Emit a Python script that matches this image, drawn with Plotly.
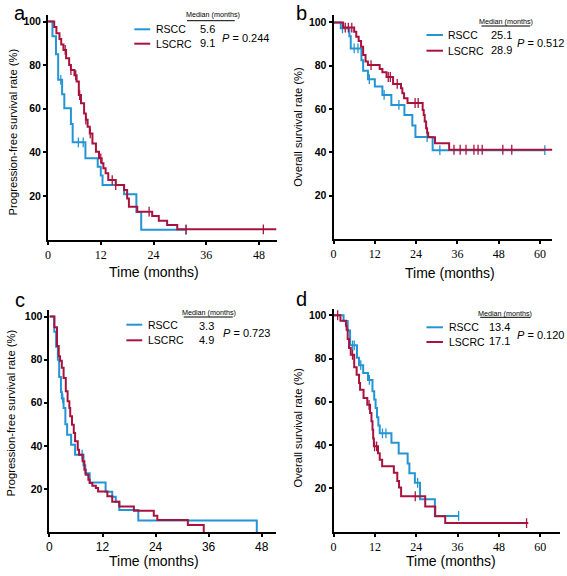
import plotly.graph_objects as go

W, H = 567, 576

BLUE = "#2394d4"
RED = "#a8133e"

# ---------------- data ----------------
# Panel a : progression-free survival
a_rscc_t = [0, 1.0, 1.8, 2.3, 3.2, 3.7, 5.2, 5.6, 8.5, 11.3, 12.0, 12.4, 17.3, 20.1, 21.2]
a_rscc_s = [100, 93.3, 85.0, 73.3, 66.7, 60.2, 53.0, 44.6, 37.3, 33.4, 29.4, 25.0, 20.8, 12.7, 4.5]
a_rscc_end = 31.4
a_rscc_cens = [2.9, 6.9, 8.0, 31.4]

a_lscrc_t = [0, 1.4, 1.9, 2.6, 3.0, 3.5, 4.1, 4.8, 5.2, 6.0, 6.5, 7.0, 7.5, 8.2, 8.6, 9.0, 9.5,
             10.1, 10.9, 11.6, 12.2, 12.6, 13.1, 13.7, 15.4, 17.3, 18.0, 18.4, 20.3, 23.7, 25.2, 27.1, 29.4]
a_lscrc_s = [100, 97.5, 94.6, 92.0, 89.5, 87.0, 83.2, 80.1, 77.8, 75.4, 72.5, 66.3, 62.5, 57.9, 55.0, 51.8, 48.7,
             44.1, 40.3, 37.3, 35.0, 32.7, 30.4, 27.3, 25.0, 22.8, 18.9, 15.1, 12.8, 10.8, 8.7, 6.7, 4.7]
a_lscrc_end = 52.0
a_lscrc_cens = [3.9, 5.2, 6.3, 7.2, 8.6, 9.6, 12.0, 14.6, 15.4, 23.0, 31.4, 49.0]

# Panel b : overall survival
b_rscc_t = [0, 2.1, 4.6, 5.0, 8.1, 8.6, 10.0, 12.0, 14.2, 16.8, 20.6, 22.9, 23.8, 28.8]
b_rscc_s = [100, 97.3, 93.6, 88.0, 82.5, 77.7, 73.8, 70.4, 66.5, 61.9, 57.3, 52.4, 47.1, 41.0]
b_rscc_end = 61.4
b_rscc_cens = [2.6, 6.0, 7.1, 10.4, 14.7, 19.0, 27.2, 30.9, 61.4]

b_lscrc_t = [0, 2.8, 6.0, 6.6, 7.3, 8.0, 8.6, 9.3, 10.0, 13.4, 14.2, 15.4, 17.3, 19.6, 20.0, 20.5, 21.5,
             25.9, 26.2, 26.5, 26.9, 27.2, 27.5, 29.5, 33.6]
b_lscrc_s = [100, 97.6, 95.7, 93.4, 91.4, 88.8, 85.0, 82.0, 80.3, 78.5, 77.0, 74.8, 71.6, 69.6, 67.3, 65.0, 62.8,
             59.6, 57.3, 54.2, 51.1, 49.1, 47.0, 44.2, 41.2]
b_lscrc_end = 63.6
b_lscrc_cens = [3.4, 4.3, 5.3, 10.9, 15.9, 16.5, 18.5, 23.7, 24.6, 35.0, 36.8, 38.5, 40.8, 42.0, 43.2, 49.2, 51.8]

# Panel c : progression-free survival
c_rscc_t = [0, 1.1, 1.5, 1.9, 2.2, 2.6, 2.8, 3.2, 3.6, 4.0, 4.9, 5.8, 7.7, 8.1, 9.1, 12.7, 14.2, 15.0, 15.8, 20.1, 46.9]
c_rscc_s = [100, 93.0, 86.0, 80.0, 72.0, 65.0, 62.0, 57.6, 50.0, 45.2, 40.5, 35.9, 31.0, 27.3, 23.0, 18.7, 16.4, 14.1, 10.2, 5.3, 0]
c_rscc_end = 46.9
c_rscc_cens = [3.0, 7.4]

c_lscrc_t = [0, 1.1, 1.7, 2.1, 2.4, 2.8, 3.2, 3.7, 4.1, 4.5, 4.7, 5.1, 5.5, 5.8, 6.4, 6.7, 7.5, 7.9, 8.2, 8.8,
             9.1, 9.7, 10.5, 11.0, 13.1, 14.2, 15.8, 19.1, 23.6, 24.4, 31.3, 34.9]
c_lscrc_s = [100, 95.0, 86.3, 81.6, 79.5, 76.2, 71.5, 65.3, 60.7, 57.6, 53.7, 49.8, 46.0, 42.1, 38.2, 35.9, 32.8, 28.9, 26.6, 24.3,
             22.7, 21.5, 20.4, 18.8, 16.6, 14.0, 11.8, 9.9, 7.6, 5.6, 3.3, 0]
c_lscrc_end = 34.9
c_lscrc_cens = []

# Panel d : overall survival
d_rscc_t = [0, 2.9, 4.1, 4.8, 6.8, 7.4, 8.6, 10.0, 11.3, 11.8, 12.2, 12.6, 13.0, 13.4, 16.8, 18.9, 21.5, 22.0, 23.6, 25.1, 29.4]
d_rscc_s = [100, 97.3, 93.0, 86.1, 80.3, 76.9, 73.3, 70.1, 64.8, 61.0, 57.1, 52.8, 49.0, 45.4, 41.0, 36.1, 31.5, 26.9, 22.5, 14.9, 7.2]
d_rscc_end = 36.3
d_rscc_cens = [5.5, 6.0, 7.9, 10.4, 14.2, 15.2, 24.4, 36.3]

d_lscrc_t = [0, 2.0, 3.6, 3.8, 4.1, 4.5, 5.0, 6.0, 6.7, 7.4, 7.7, 8.7, 9.8, 10.6, 11.0, 11.3, 11.5, 11.7, 12.9,
             13.4, 14.1, 17.5, 18.5, 19.0, 19.6, 26.6, 29.5, 32.4]
d_lscrc_s = [100, 97.4, 95.2, 93.3, 89.0, 84.8, 81.7, 75.9, 72.5, 68.7, 65.6, 61.7, 58.6, 54.8, 51.0, 47.0, 43.0, 39.4, 36.2,
             33.2, 30.2, 27.2, 23.4, 20.3, 16.3, 11.6, 7.1, 3.9]
d_lscrc_end = 56.5
d_lscrc_cens = [1.2, 5.5, 10.3, 11.9, 12.5, 23.7, 56.0]

panel_letters = ["a", "b", "c", "d"]
group_names = ["RSCC", "LSCRC"]
medians = [["5.6", "9.1"], ["25.1", "28.9"], ["3.3", "4.9"], ["13.4", "17.1"]]
p_values = ["0.244", "0.512", "0.723", "0.120"]
y_titles = ["Progression-free survival rate (%)", "Overall survival rate (%)",
            "Progression-free survival rate (%)", "Overall survival rate (%)"]
x_title = "Time (months)"
median_header = "Median (months)"
y_ticks = [20, 40, 60, 80, 100]
x_ticks_short = [0, 12, 24, 36, 48]
x_ticks_long = [0, 12, 24, 36, 48, 60]

# ---------------- layout helpers ----------------
def px(x):
    return x / W

def py(y):
    return 1 - y / H

SANS = "Liberation Sans, Arial, sans-serif"
SERIF = "Liberation Serif, Times New Roman, serif"

# pixel boxes (left, right, top, bottom), x max, tick list, tick font
panels = [
    dict(box=(45.3, 275.0, 15.0, 239.6), xmax=52.0, ticks=x_ticks_short, tfont=SERIF),
    dict(box=(332.3, 552.3, 15.0, 239.0), xmax=63.6, ticks=x_ticks_long, tfont=SERIF),
    dict(box=(46.7, 274.7, 310.0, 532.0), xmax=51.3, ticks=x_ticks_short, tfont=SANS),
    dict(box=(332.3, 560.3, 309.0, 531.5), xmax=65.8, ticks=x_ticks_long, tfont=SERIF),
]
YPX = [2.18, 2.166, 2.154, 2.1625]  # pixels per percent

fig = go.Figure()

def surv_at(ts, ss, t):
    v = ss[0]
    for ti, si in zip(ts, ss):
        if ti <= t:
            v = si
    return v

def add_curve(ts, ss, end, cens, color, i):
    xa = "x" if i == 0 else f"x{i+1}"
    ya = "y" if i == 0 else f"y{i+1}"
    fig.add_trace(go.Scatter(x=list(ts) + [end], y=list(ss) + [ss[-1]], mode="lines",
                             line=dict(shape="hv", color=color, width=2),
                             xaxis=xa, yaxis=ya, showlegend=False, hoverinfo="skip"))
    if cens:
        fig.add_trace(go.Scatter(x=cens, y=[surv_at(ts, ss, c) for c in cens], mode="markers",
                                 marker=dict(symbol="line-ns", size=7, color=color,
                                             line=dict(width=1.3, color=color)),
                                 xaxis=xa, yaxis=ya, showlegend=False, hoverinfo="skip"))

series = [
    (a_rscc_t, a_rscc_s, a_rscc_end, a_rscc_cens, a_lscrc_t, a_lscrc_s, a_lscrc_end, a_lscrc_cens),
    (b_rscc_t, b_rscc_s, b_rscc_end, b_rscc_cens, b_lscrc_t, b_lscrc_s, b_lscrc_end, b_lscrc_cens),
    (c_rscc_t, c_rscc_s, c_rscc_end, c_rscc_cens, c_lscrc_t, c_lscrc_s, c_lscrc_end, c_lscrc_cens),
    (d_rscc_t, d_rscc_s, d_rscc_end, d_rscc_cens, d_lscrc_t, d_lscrc_s, d_lscrc_end, d_lscrc_cens),
]
for i, s in enumerate(series):
    add_curve(s[0], s[1], s[2], s[3], BLUE, i)
    add_curve(s[4], s[5], s[6], s[7], RED, i)

layout = dict(width=W, height=H, margin=dict(l=0, r=0, t=0, b=0, pad=0),
              paper_bgcolor="white", plot_bgcolor="white", showlegend=False)

for i, p in enumerate(panels):
    l, r, t, b = p["box"]
    sfx = "" if i == 0 else str(i + 1)
    ymax = (b - t) / YPX[i]
    layout["xaxis" + sfx] = dict(domain=[px(l), px(r)], range=[0, p["xmax"]], anchor="y" + sfx,
                                 tickvals=p["ticks"], ticktext=[str(v) for v in p["ticks"]],
                                 showline=True, linecolor="black", linewidth=2, mirror=False,
                                 showgrid=False, zeroline=False, ticks="outside", ticklen=3,
                                 tickwidth=1.5, tickcolor="black",
                                 tickfont=dict(family=p["tfont"], size=12, color="black"))
    layout["yaxis" + sfx] = dict(domain=[py(b), py(t)], range=[0, ymax], anchor="x" + sfx,
                                 tickvals=y_ticks, ticktext=[str(v) for v in y_ticks],
                                 showline=True, linecolor="black", linewidth=2,
                                 showgrid=False, zeroline=False, ticks="outside", ticklen=3,
                                 tickwidth=1.5, tickcolor="black",
                                 tickfont=dict(family=SANS, size=10.5, color="black", weight="bold"))

fig.update_layout(**layout)

annotations = []
shapes = []

# per-panel decoration positions (pixels)
deco = [
    dict(letter=(17, 0), line_x=(132, 148), ly=(29.3, 43.7), text_x=152, head=(211, 15), ul=(185, 233, 20.7),
         val_x=206, vy=(29.3, 43.3), p=(269, 37.7), xt=(151.5, 272), yt=(10, 131.5)),
    dict(letter=(300, 0), line_x=(425.7, 442.3), ly=(35, 50.7), text_x=445.7, head=(506, 21.7), ul=(481, 530, 26),
         val_x=501.3, vy=(35, 50), p=(566, 42.7), xt=(449, 273), yt=(296.5, 126.7)),
    dict(letter=(17, 287), line_x=(124, 140), ly=(324.7, 340.3), text_x=143.3, head=(206.7, 312), ul=(181.7, 231, 317),
         val_x=205, vy=(326.3, 339.7), p=(270, 333), xt=(151.7, 560.5), yt=(8.5, 413)),
    dict(letter=(300, 286), line_x=(425.7, 442.3), ly=(327.3, 342), text_x=446.3, head=(505, 313), ul=(479.7, 530, 317.3),
         val_x=499, vy=(327.3, 341.3), p=(566, 335.3), xt=(450, 560.5), yt=(296.5, 427.5)),
]

for i, dcfg in enumerate(deco):
    annotations.append(dict(x=px(dcfg["letter"][0]), y=py(dcfg["letter"][1]), xref="paper", yref="paper",
                            text=panel_letters[i], showarrow=False, xanchor="center", yanchor="top",
                            font=dict(family=SANS, size=20, color="black")))
    for k, (col, name) in enumerate(zip([BLUE, RED], group_names)):
        yy = dcfg["ly"][k]
        shapes.append(dict(type="line", xref="paper", yref="paper",
                           x0=px(dcfg["line_x"][0]), x1=px(dcfg["line_x"][1]), y0=py(yy), y1=py(yy),
                           line=dict(color=col, width=2)))
        annotations.append(dict(x=px(dcfg["text_x"]), y=py(yy), xref="paper", yref="paper", text=name,
                                showarrow=False, xanchor="left", yanchor="middle",
                                font=dict(family=SANS, size=10.5, color="black")))
        annotations.append(dict(x=px(dcfg["val_x"]), y=py(dcfg["vy"][k]), xref="paper", yref="paper",
                                text=medians[i][k], showarrow=False, xanchor="center", yanchor="middle",
                                font=dict(family=SANS, size=11, color="black")))
    annotations.append(dict(x=px(dcfg["head"][0]), y=py(dcfg["head"][1]), xref="paper", yref="paper",
                            text=median_header, showarrow=False, xanchor="center", yanchor="middle",
                            font=dict(family=SANS, size=7.2, color="black")))
    u = dcfg["ul"]
    shapes.append(dict(type="line", xref="paper", yref="paper", x0=px(u[0]), x1=px(u[1]),
                       y0=py(u[2]), y1=py(u[2]), line=dict(color="black", width=1)))
    annotations.append(dict(x=px(dcfg["p"][0]), y=py(dcfg["p"][1]), xref="paper", yref="paper",
                            text="<i>P</i> = " + p_values[i], showarrow=False, xanchor="right", yanchor="middle",
                            font=dict(family=SANS, size=11, color="black")))
    annotations.append(dict(x=px(dcfg["xt"][0]), y=py(dcfg["xt"][1]), xref="paper", yref="paper",
                            text=x_title, showarrow=False, xanchor="center", yanchor="middle",
                            font=dict(family=SANS, size=14, color="black")))
    annotations.append(dict(x=px(dcfg["yt"][0]), y=py(dcfg["yt"][1]), xref="paper", yref="paper",
                            text=y_titles[i], showarrow=False, xanchor="center", yanchor="middle",
                            textangle=-90, font=dict(family=SANS, size=11.2, color="black")))

fig.update_layout(annotations=annotations, shapes=shapes)
fig.write_html("out.html", config={"displayModeBar": False},
               post_script="document.body.style.margin='0';document.body.style.padding='0';")
